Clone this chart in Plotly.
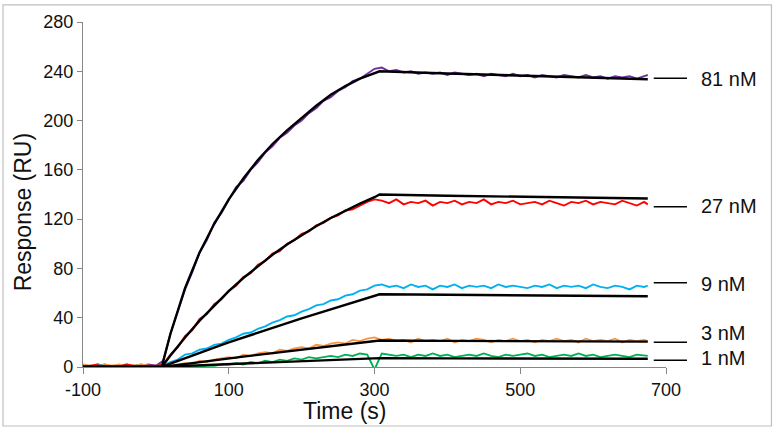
import plotly.graph_objects as go

# ---------------- data ----------------
time_s = list(range(-100, 671, 10)) + [675]

resp_81nM = [1, 0, 2, 1, 0, 1, 2, 0, 1, 2, 1,
             5, 27, 45, 63, 77, 93, 103, 117, 125, 135, 146, 151, 160, 166, 174, 179, 186, 190, 196, 200,
             206, 210, 216, 219, 224, 227, 232, 234, 238, 242,
             243, 240, 241, 239, 240, 238, 239, 238, 239, 237, 239, 238, 237, 238, 236, 238, 237, 236, 238, 236,
             237, 235, 237, 236, 235, 237, 236, 235, 237, 235, 236, 234, 236, 235, 236, 234, 236,
             237]
resp_27nM = [0, 1, 2, 0, 1, 0, 2, 1, 0, 1, 1,
             2, 10, 16, 25, 30, 39, 43, 51, 55, 62, 66, 73, 76, 83, 86, 92, 94, 100, 103, 108,
             110, 115, 117, 121, 123, 127, 128, 131, 134, 136,
             135, 133, 136, 132, 134, 133, 135, 131, 134, 133, 135, 132, 134, 133, 136, 132, 134, 133, 135, 132,
             133, 134, 132, 135, 133, 131, 134, 133, 135, 132, 134, 133, 132, 135, 133, 131, 134,
             132]
resp_9nM = [1, 0, 1, 2, 0, 1, 0, 1, 2, 0, 1,
            1, 4, 6, 10, 11, 14, 15, 18, 19, 22, 24, 27, 28, 31, 33, 36, 38, 41, 42, 45,
            47, 50, 51, 54, 55, 58, 59, 62, 63, 66,
            67, 65, 66, 64, 67, 65, 66, 63, 66, 65, 67, 64, 66, 65, 66, 64, 67, 65, 66, 65,
            64, 66, 65, 67, 64, 66, 65, 66, 64, 67, 65, 64, 66, 65, 63, 66, 65,
            66]
resp_3nM = [2, 1, 0, 2, 1, 2, 0, 1, 2, 1, 0,
            0, 1, 2, 3, 2, 5, 4, 6, 7, 8, 7, 10, 9, 11, 12, 11, 14, 13, 15, 16,
            15, 18, 17, 19, 20, 19, 22, 21, 23, 24,
            22, 23, 21, 22, 20, 23, 21, 22, 21, 23, 20, 22, 21, 23, 22, 20, 22, 21, 23, 21,
            22, 20, 22, 21, 23, 21, 22, 20, 23, 21, 22, 21, 23, 20, 22, 21, 22,
            21]
resp_1nM = [0, 1, 0, 1, 0, 0, 1, 0, 1, 0, 0,
            0, 0, -1, 0, 1, 0, 1, 1, 2, 2, 3, 2, 4, 3, 5, 4, 6, 5, 7, 6,
            8, 7, 8, 9, 8, 10, 9, 11, 10, -2,
            11, 10, 9, 10, 8, 10, 9, 11, 9, 10, 8, 9, 10, 9, 11, 9, 8, 10, 9, 10,
            11, 9, 10, 8, 9, 10, 9, 11, 9, 10, 8, 9, 10, 9, 8, 10, 9,
            9]

fit_time = [-100, 8, 20, 40, 60, 80, 100, 120, 140, 160, 180, 200, 220, 240, 260, 280, 300, 307, 400, 500, 600, 675]
fit_81nM = [0, 0, 27, 64, 93, 116, 136, 153, 168, 181, 192, 202, 212, 221, 228, 234, 238.5, 240, 238.2, 236.3, 234.8, 233.5]
fit_27nM = [0, 0, 9.4, 24.0, 37.6, 50.0, 61.6, 72.2, 82.0, 91.1, 99.5, 107.2, 114.3, 120.9, 127.0, 132.6, 137.8, 140, 139, 138, 137.3, 136.8]
fit_9nM = [0, 0, 2.7, 7.2, 11.6, 15.8, 20, 24, 28, 32, 35.8, 39.5, 43.1, 46.7, 50.3, 54.1, 57.8, 59, 58.6, 58.2, 57.8, 57.4]
fit_3nM = [0, 0, 0.9, 2.5, 4.1, 5.6, 7.0, 8.4, 9.8, 11.2, 12.6, 14, 15.4, 16.8, 18.2, 19.6, 21.0, 21.5, 21.2, 21.0, 20.8, 20.6]
fit_1nM = [0, 0, 0.3, 0.9, 1.4, 1.9, 2.4, 2.9, 3.4, 3.8, 4.3, 4.8, 5.2, 5.7, 6.1, 6.6, 7.0, 7.2, 7.0, 6.9, 6.8, 6.7]

conc_labels = ["81 nM", "27 nM", "9 nM", "3 nM", "1 nM"]
leader_y = [234.4, 130, 68.4, 20.1, 5.4]
label_y = [233.6, 130.9, 67.3, 27.4, 7]

x_ticks = [-100, 100, 300, 500, 700]
x_tick_text = ["-100", "100", "300", "500", "700"]
y_ticks = [0, 40, 80, 120, 160, 200, 240, 280]

# ---------------- figure ----------------
FONT = "Liberation Sans, Arial, sans-serif"
series = [
    (resp_81nM, fit_81nM, "#7030A0"),
    (resp_27nM, fit_27nM, "#FF0000"),
    (resp_9nM, fit_9nM, "#00B0F0"),
    (resp_3nM, fit_3nM, "#F79646"),
    (resp_1nM, fit_1nM, "#00B050"),
]

fig = go.Figure()
for resp, fit, col in series:
    fig.add_trace(go.Scatter(x=time_s, y=resp, mode="lines",
                             line=dict(color=col, width=1.9), showlegend=False, hoverinfo="skip"))
for resp, fit, col in series:
    fig.add_trace(go.Scatter(x=fit_time, y=fit, mode="lines",
                             line=dict(color="black", width=2.4), showlegend=False, hoverinfo="skip"))

for lab, ly, ty in zip(conc_labels, leader_y, label_y):
    fig.add_shape(type="line", xref="paper", yref="y", x0=0.979, x1=1.036, y0=ly, y1=ly,
                  line=dict(color="black", width=1.5))
    fig.add_annotation(text=lab, xref="paper", yref="y", x=1.057, y=ty, xanchor="left",
                       yanchor="middle", showarrow=False, font=dict(family=FONT, size=20, color="#111"))

# titles
fig.add_annotation(text="Time (s)", xref="paper", yref="paper", x=0.448, y=-0.127,
                   xanchor="center", yanchor="middle", showarrow=False,
                   font=dict(family=FONT, size=23, color="#111"))
fig.add_annotation(text="Response (RU)", xref="paper", yref="paper", x=-0.103, y=0.451,
                   xanchor="center", yanchor="middle", showarrow=False, textangle=-90,
                   font=dict(family=FONT, size=23, color="#111"))

# outer frame
fig.add_shape(type="rect", xref="paper", yref="paper", x0=-0.1372, x1=1.1809, y0=-0.171, y1=1.0497,
              line=dict(color="#BFBFBF", width=1.2))

fig.update_layout(
    width=774, height=429,
    margin=dict(l=83, r=108, t=19, b=62),
    paper_bgcolor="white", plot_bgcolor="white",
    font=dict(family=FONT, size=18, color="#111"),
)
fig.update_xaxes(range=[-100, 700], tickvals=x_ticks, ticktext=x_tick_text, showgrid=False, zeroline=False,
                 showline=True, linecolor="#868686", linewidth=1.2,
                 ticks="outside", ticklen=6, tickcolor="#868686",
                 tickfont=dict(family=FONT, size=18, color="#111"))
fig.update_yaxes(range=[0, 280], tickvals=y_ticks, showgrid=False, zeroline=False,
                 showline=True, linecolor="#868686", linewidth=1.2,
                 ticks="outside", ticklen=5, tickcolor="#868686",
                 tickfont=dict(family=FONT, size=18, color="#111"))

fig.write_html("out.html", config={"displayModeBar": False},
               post_script="document.body.style.margin='0px'; document.body.style.overflow='hidden';")
